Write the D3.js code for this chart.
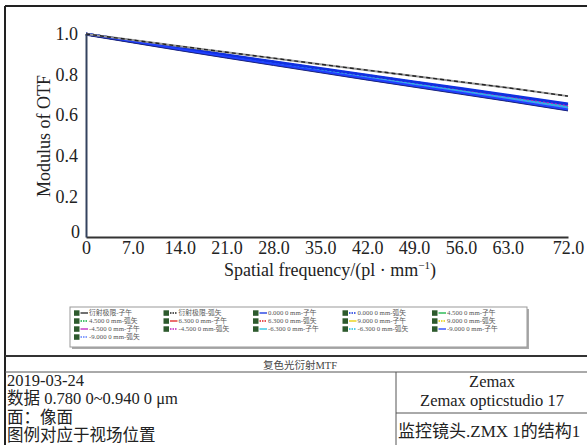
<!DOCTYPE html>
<html>
<head>
<meta charset="utf-8">
<script src="https://cdn.jsdelivr.net/npm/d3@7"></script>
<style>
  body { margin: 0; background: #fff; }
  svg { display: block; }
  .serif { font-family: "Liberation Serif", "DejaVu Serif", serif; }
  .cjk { font-family: "Liberation Serif", "Noto Sans CJK SC", serif; }
</style>
</head>
<body>
<div id="chart"></div>
<script>
// spatial frequency samples (pl/mm)
var freq = [0, 7, 14, 21, 28, 35, 42, 49, 56, 63, 72];

// MTF values
var diffT = [1.000, 0.970, 0.940, 0.910, 0.881, 0.851, 0.822, 0.793, 0.764, 0.735, 0.694];
var diffS = [1.000, 0.970, 0.940, 0.910, 0.881, 0.851, 0.822, 0.793, 0.764, 0.735, 0.694];
var f0T   = [1.000, 0.965, 0.931, 0.897, 0.864, 0.831, 0.798, 0.765, 0.732, 0.699, 0.656];
var f0S   = [1.000, 0.965, 0.930, 0.896, 0.862, 0.829, 0.796, 0.763, 0.730, 0.697, 0.653];
var f45T  = [1.000, 0.964, 0.929, 0.895, 0.861, 0.827, 0.793, 0.760, 0.727, 0.694, 0.650];
var f45S  = [1.000, 0.964, 0.930, 0.895, 0.862, 0.828, 0.795, 0.762, 0.729, 0.696, 0.652];
var f63T  = [1.000, 0.963, 0.927, 0.891, 0.856, 0.821, 0.786, 0.752, 0.718, 0.684, 0.638];
var f63S  = [1.000, 0.964, 0.928, 0.893, 0.858, 0.823, 0.789, 0.755, 0.721, 0.687, 0.642];
var f90T  = [1.000, 0.962, 0.925, 0.888, 0.852, 0.816, 0.780, 0.745, 0.710, 0.675, 0.628];
var f90S  = [1.000, 0.963, 0.927, 0.891, 0.855, 0.820, 0.785, 0.750, 0.716, 0.682, 0.636];
var fm45T = [1.000, 0.964, 0.929, 0.894, 0.860, 0.826, 0.792, 0.759, 0.726, 0.693, 0.649];
var fm45S = [1.000, 0.964, 0.930, 0.895, 0.861, 0.828, 0.794, 0.761, 0.728, 0.695, 0.651];
var fm63T = [1.000, 0.963, 0.926, 0.890, 0.855, 0.820, 0.785, 0.751, 0.717, 0.683, 0.637];
var fm63S = [1.000, 0.963, 0.927, 0.892, 0.857, 0.822, 0.788, 0.754, 0.720, 0.686, 0.641];
var fm90T = [1.000, 0.962, 0.924, 0.887, 0.851, 0.815, 0.779, 0.744, 0.709, 0.674, 0.627];
var fm90S = [1.000, 0.962, 0.926, 0.890, 0.854, 0.819, 0.784, 0.749, 0.715, 0.681, 0.634];

var seriesNames = ["衍射极限-子午", "衍射极限-弧矢", "0.000 0 mm-子午", "0.000 0 mm-弧矢",
  "4.500 0 mm-子午", "4.500 0 mm-弧矢", "6.300 0 mm-子午", "6.300 0 mm-弧矢",
  "9.000 0 mm-子午", "9.000 0 mm-弧矢", "-4.500 0 mm-子午", "-4.500 0 mm-弧矢",
  "-6.300 0 mm-子午", "-6.300 0 mm-弧矢", "-9.000 0 mm-子午", "-9.000 0 mm-弧矢"];
var seriesValues = [diffT, diffS, f0T, f0S, f45T, f45S, f63T, f63S,
  f90T, f90S, fm45T, fm45S, fm63T, fm63S, fm90T, fm90S];
var seriesColors = ["#222", "#222", "#1030e0", "#1030e0", "#10b040", "#10b040",
  "#e02020", "#e02020", "#e8d000", "#e8d000", "#c020c0", "#c020c0",
  "#20c0e0", "#20c0e0", "#2040ff", "#6080ff"];
var seriesDash = [null, "3,2", null, "2,2", null, "2,2", null, "2,2",
  null, "2,2", null, "2,2", null, "2,2", null, "2,2"];
// the blue fields sit on top of the bundle in the picture
var drawOrder = [6, 7, 4, 5, 8, 9, 10, 11, 12, 13, 15, 3, 2, 14];

var xTicks = [0, 7, 14, 21, 28, 35, 42, 49, 56, 63, 72];
var yTicks = [0, 0.2, 0.4, 0.6, 0.8, 1.0];

var infoLeft = ["2019-03-24", "数据 0.780 0~0.940 0 μm", "面：像面", "图例对应于视场位置"];
var infoRight = ["Zemax", "Zemax opticstudio 17"];
var infoFile = "监控镜头.ZMX 1的结构1";
var chartTitle = "复色光衍射MTF";

var W = 587, H = 445;
var svg = d3.select("#chart").append("svg").attr("width", W).attr("height", H);

var x = d3.scaleLinear().domain([0, 72]).range([86, 568]);
var y = d3.scaleLinear().domain([0, 1]).range([237, 34]);

// outer frame
svg.append("line").attr("x1", 5).attr("x2", W).attr("y1", 6).attr("y2", 6)
  .attr("stroke", "#222").attr("stroke-width", 2);
svg.append("line").attr("x1", 5).attr("x2", 5).attr("y1", 6).attr("y2", H)
  .attr("stroke", "#222").attr("stroke-width", 2);

// curves
var line = d3.line()
  .x(function (d, i) { return x(freq[i]); })
  .y(function (d) { return y(d); });

var lineG = svg.append("g");
drawOrder.forEach(function (i) {
  lineG.append("path")
    .attr("d", line(seriesValues[i]))
    .attr("fill", "none")
    .attr("stroke", seriesColors[i])
    .attr("stroke-width", i === 14 || i === 2 ? 2.6 : 2.4)
    .attr("stroke-dasharray", seriesDash[i]);
});
// dark edge on the lower side of the bundle
lineG.append("path").attr("d", line(fm90T)).attr("fill", "none")
  .attr("stroke", "#1a237e").attr("stroke-width", 1).attr("transform", "translate(0,1.2)");
// diffraction limit drawn dashed grey/black
lineG.append("path").attr("d", line(diffT)).attr("fill", "none")
  .attr("stroke", "#999").attr("stroke-width", 2);
lineG.append("path").attr("d", line(diffS)).attr("fill", "none")
  .attr("stroke", "#222").attr("stroke-width", 1.4).attr("stroke-dasharray", "4,3");

// axes
var xAxis = svg.append("g").attr("transform", "translate(0," + y(0) + ")")
  .call(d3.axisBottom(x).tickValues(xTicks).tickSize(0).tickPadding(4)
    .tickFormat(function (d) { return d === 0 ? "0" : d.toFixed(1); }));
xAxis.select(".domain").attr("stroke", "#333").attr("stroke-width", 2);
xAxis.selectAll("text").attr("class", "serif").style("font-size", "18px").attr("fill", "#222");

var yAxis = svg.append("g").attr("transform", "translate(" + x(0) + ",0)")
  .call(d3.axisLeft(y).tickValues(yTicks).tickSize(0).tickPadding(8)
    .tickFormat(function (d) { return d === 0 ? "0" : d.toFixed(1); }));
yAxis.select(".domain").attr("stroke", "#34435e").attr("stroke-width", 2);
yAxis.selectAll("text").attr("class", "serif").style("font-size", "18px").attr("fill", "#222");
yAxis.selectAll(".tick").filter(function (d) { return d === 0; })
  .select("text").attr("dy", "0.05em").attr("x", -6);

svg.append("text").attr("class", "serif")
  .attr("transform", "translate(50,136) rotate(-90)")
  .attr("text-anchor", "middle").style("font-size", "18px").attr("fill", "#222")
  .text("Modulus of OTF");

var xt = svg.append("text").attr("class", "serif")
  .attr("x", 330).attr("y", 276).attr("text-anchor", "middle")
  .style("font-size", "18px").attr("fill", "#222");
xt.append("tspan").text("Spatial frequency/(pl · mm");
xt.append("tspan").attr("dy", -7).style("font-size", "11px").text("−1");
xt.append("tspan").attr("dy", 7).text(")");

// legend
var lg = svg.append("g");
lg.append("rect").attr("x", 72).attr("y", 309).attr("width", 457).attr("height", 40)
  .attr("fill", "#aaa");
lg.append("rect").attr("x", 70).attr("y", 307).attr("width", 457).attr("height", 40)
  .attr("fill", "#fff").attr("stroke", "#999").attr("stroke-width", 1);

seriesNames.forEach(function (name, i) {
  var col = i % 5, row = Math.floor(i / 5);
  var gx = 74 + col * 89.5, gy = 313 + row * 8;
  var e = lg.append("g").attr("transform", "translate(" + gx + "," + gy + ")");
  e.append("rect").attr("x", 0).attr("y", -2.7).attr("width", 5.5).attr("height", 5.5)
    .attr("fill", "#2d5a2d");
  e.append("line").attr("x1", 6.5).attr("x2", 14).attr("y1", 0).attr("y2", 0)
    .attr("stroke", seriesColors[i]).attr("stroke-width", 1.3)
    .attr("stroke-dasharray", seriesDash[i] ? "1.5,1" : null);
  e.append("text").attr("class", "cjk").attr("x", 15).attr("y", 2.4)
    .style("font-size", "6.8px").attr("fill", "#555").text(name);
});

// info block
svg.append("line").attr("x1", 5).attr("x2", W).attr("y1", 356).attr("y2", 356)
  .attr("stroke", "#333").attr("stroke-width", 2);
svg.append("text").attr("class", "cjk").attr("x", 300).attr("y", 369)
  .attr("text-anchor", "middle").style("font-size", "10.5px").attr("fill", "#444")
  .text(chartTitle);
svg.append("line").attr("x1", 5).attr("x2", W).attr("y1", 372).attr("y2", 372)
  .attr("stroke", "#555").attr("stroke-width", 1);
svg.append("line").attr("x1", 396).attr("x2", 396).attr("y1", 372).attr("y2", H)
  .attr("stroke", "#555").attr("stroke-width", 1);
svg.append("line").attr("x1", 396).attr("x2", W).attr("y1", 413).attr("y2", 413)
  .attr("stroke", "#555").attr("stroke-width", 1);

infoLeft.forEach(function (t, i) {
  svg.append("text").attr("class", "cjk").attr("x", 7).attr("y", 386 + i * 18.3)
    .style("font-size", "16.5px").attr("fill", "#222").text(t);
});
infoRight.forEach(function (t, i) {
  svg.append("text").attr("class", "serif").attr("x", 492).attr("y", 387 + i * 18.6)
    .attr("text-anchor", "middle").style("font-size", "16.5px").attr("fill", "#222").text(t);
});
svg.append("text").attr("class", "cjk").attr("x", 398).attr("y", 437)
  .style("font-size", "17px").attr("fill", "#222").text(infoFile);
</script>
</body>
</html>
